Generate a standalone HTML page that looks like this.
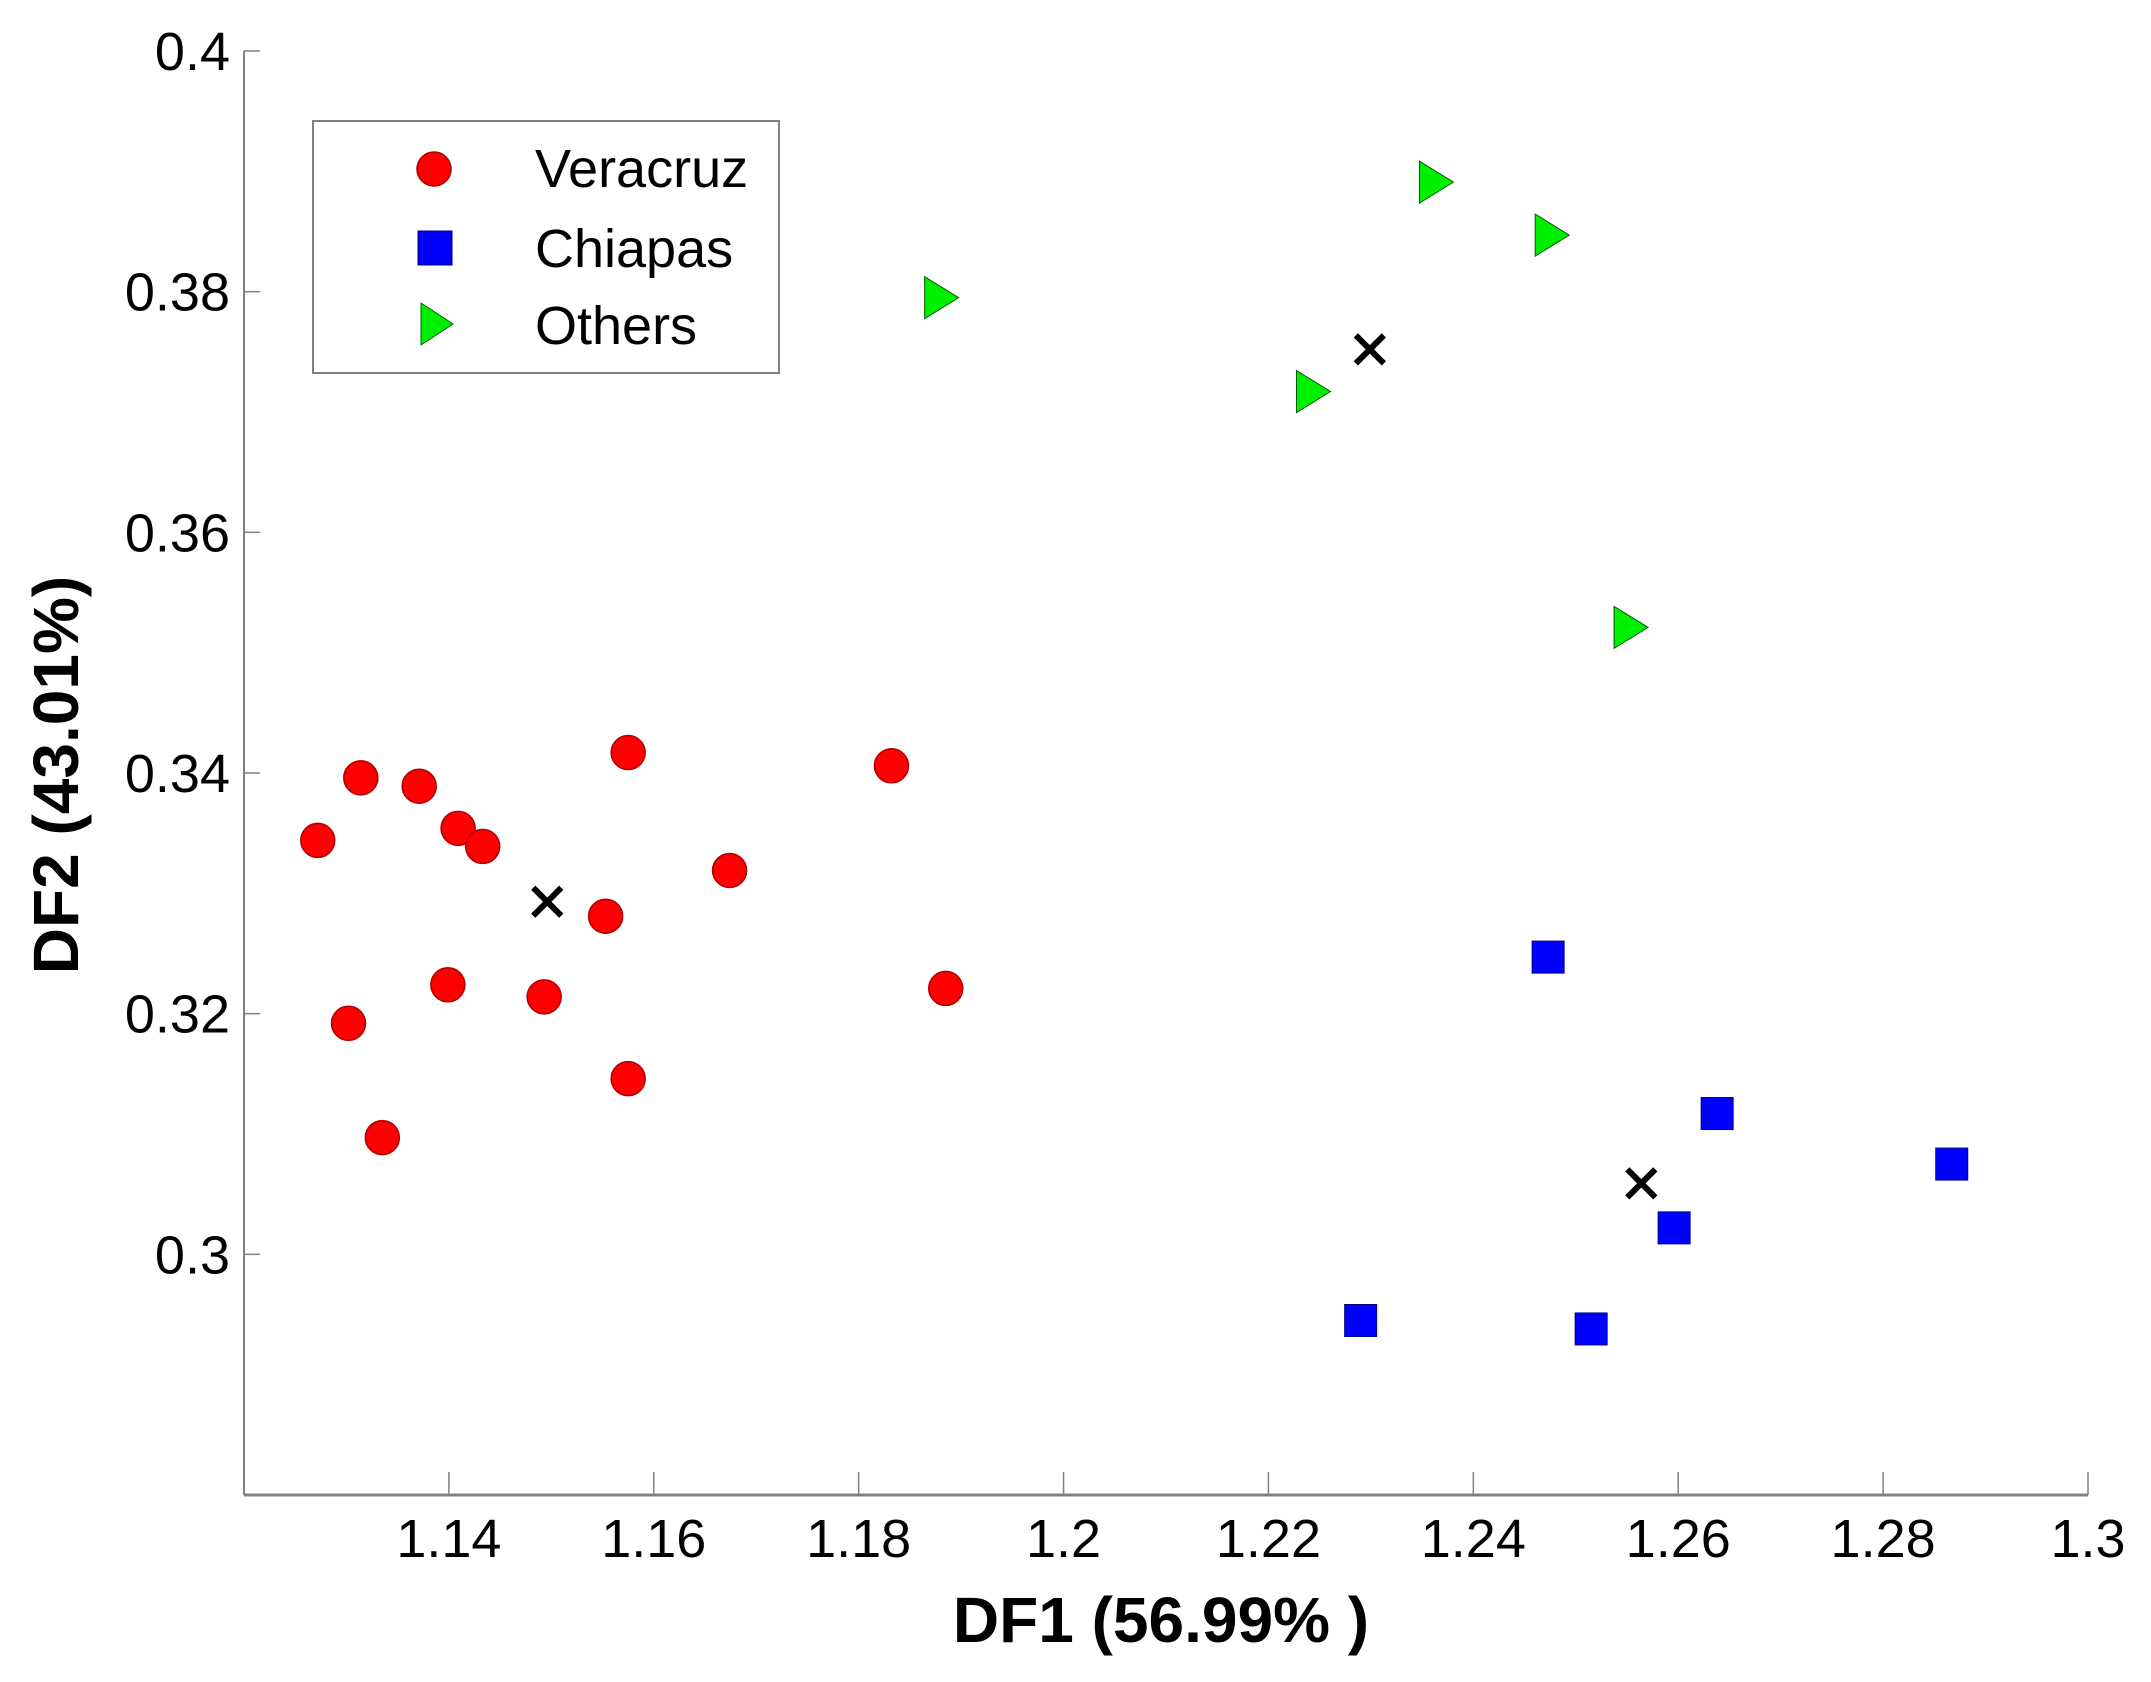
<!DOCTYPE html>
<html><head><meta charset="utf-8"><style>
html,body{margin:0;padding:0;background:#fff;}
svg{display:block;font-family:"Liberation Sans",Arial,sans-serif;}
</style></head><body>
<svg id="chart" width="2151" height="1682" viewBox="0 0 2151 1682">
<g id="axes"></g>
<g id="marks"></g>
<g id="legend">
  <rect x="313" y="121" width="466" height="252" fill="#fff" stroke="#808080" stroke-width="2"/>
  <g>
    <circle cx="434" cy="169" r="17" fill="#ff0000" stroke="#b00000" stroke-width="1.5"/>
    <text x="535" y="187" font-size="54">Veracruz</text>
  </g>
  <g>
    <rect x="418" y="231" width="34" height="34" fill="#0000ff" stroke="#000080" stroke-width="1"/>
    <text x="535" y="267" font-size="54">Chiapas</text>
  </g>
  <g>
    <polygon points="421,303 453,324 421,345" fill="#00ee00" stroke="#006000" stroke-width="1"/>
    <text x="535" y="344" font-size="54">Others</text>
  </g>
</g>
<text x="1161" y="1642" font-size="64" font-weight="bold" text-anchor="middle">DF1 (56.99% )</text>
<text transform="translate(78,775) rotate(-90)" font-size="64" font-weight="bold" text-anchor="middle">DF2 (43.01%)</text>
</svg>
<script>
const xTicks = [1.14, 1.16, 1.18, 1.2, 1.22, 1.24, 1.26, 1.28, 1.3];
const xTickLabels = ["1.14","1.16","1.18","1.2","1.22","1.24","1.26","1.28","1.3"];
const yTicks = [0.3, 0.32, 0.34, 0.36, 0.38, 0.4];
const yTickLabels = ["0.3","0.32","0.34","0.36","0.38","0.4"];
const veracruzX = [1.1272,1.1314,1.1371,1.1409,1.1433,1.1575,1.1553,1.1674,1.1832,1.1885,1.1399,1.1493,1.1302,1.1575,1.1335];
const veracruzY = [0.3344,0.3396,0.3389,0.3354,0.3339,0.3417,0.3281,0.3319,0.3406,0.3221,0.3224,0.3214,0.3192,0.3146,0.3097];
const chiapasX = [1.2473,1.2638,1.2867,1.2596,1.2290,1.2515];
const chiapasY = [0.3247,0.3117,0.3075,0.3022,0.2945,0.2938];
const othersX = [1.188,1.2363,1.2476,1.2243,1.2553];
const othersY = [0.3795,0.3891,0.3847,0.3717,0.3521];
const centroidX = [1.1496,1.2299,1.2564];
const centroidY = [0.3293,0.3752,0.3059];

const X0=244, X1=2088, Y0=1495, Y1=51;
const xMin=1.12, xMax=1.30, yMin=0.28, yMax=0.40;
const sx = v => X0 + (v-xMin)/(xMax-xMin)*(X1-X0);
const sy = v => Y0 - (v-yMin)/(yMax-yMin)*(Y0-Y1);
const NS="http://www.w3.org/2000/svg";
function mk(tag, attrs, parent){const e=document.createElementNS(NS,tag);for(const k in attrs)e.setAttribute(k,attrs[k]);parent.appendChild(e);return e;}
const axes=document.getElementById('axes'), marks=document.getElementById('marks');

let el=mk('line',{x1:X0,y1:Y0,x2:X1,y2:Y0,stroke:'#808080','stroke-width':3},axes);


el=mk('line',{x1:X0,y1:Y0,x2:X0,y2:Y1,stroke:'#808080','stroke-width':2},axes);



xTicks.forEach((t,i)=>{
  const x=sx(t);
  const tk=mk('line',{x1:x,y1:Y0,x2:x,y2:Y0-23,stroke:'#808080','stroke-width':1.5},axes);
  
  
  const tx=mk('text',{x:x,y:1557,'font-size':54,'text-anchor':'middle'},axes);
  tx.textContent=xTickLabels[i];
  
  
});
yTicks.forEach((t,i)=>{
  const y=sy(t);
  const tk=mk('line',{x1:X0,y1:y,x2:X0+16,y2:y,stroke:'#808080','stroke-width':1.5},axes);
  
  
  const tx=mk('text',{x:230,y:y+19,'font-size':54,'text-anchor':'end'},axes);
  tx.textContent=yTickLabels[i];
  
  
});

veracruzX.forEach((v,i)=>{
  const c=mk('circle',{cx:sx(v),cy:sy(veracruzY[i]),r:17,fill:'#ff0000',stroke:'#b00000','stroke-width':1.5},marks);
  
  
});
chiapasX.forEach((v,i)=>{
  const x=sx(v), y=sy(chiapasY[i]);
  const r=mk('rect',{x:x-16,y:y-16,width:32,height:32,fill:'#0000ff',stroke:'#000080','stroke-width':1},marks);
  
  
});
othersX.forEach((v,i)=>{
  const x=sx(v), y=sy(othersY[i]);
  const p=mk('polygon',{points:`${x-16},${y-21} ${x+18},${y} ${x-16},${y+21}`,fill:'#00ee00',stroke:'#006000','stroke-width':1},marks);
  
  
});
centroidX.forEach((v,i)=>{
  const x=sx(v), y=sy(centroidY[i]), d=14;
  const g=mk('path',{d:`M${x-d},${y-d}L${x+d},${y+d}M${x+d},${y-d}L${x-d},${y+d}`,stroke:'#000','stroke-width':6,fill:'none'},marks);
  
  
});
</script>
</body></html>
